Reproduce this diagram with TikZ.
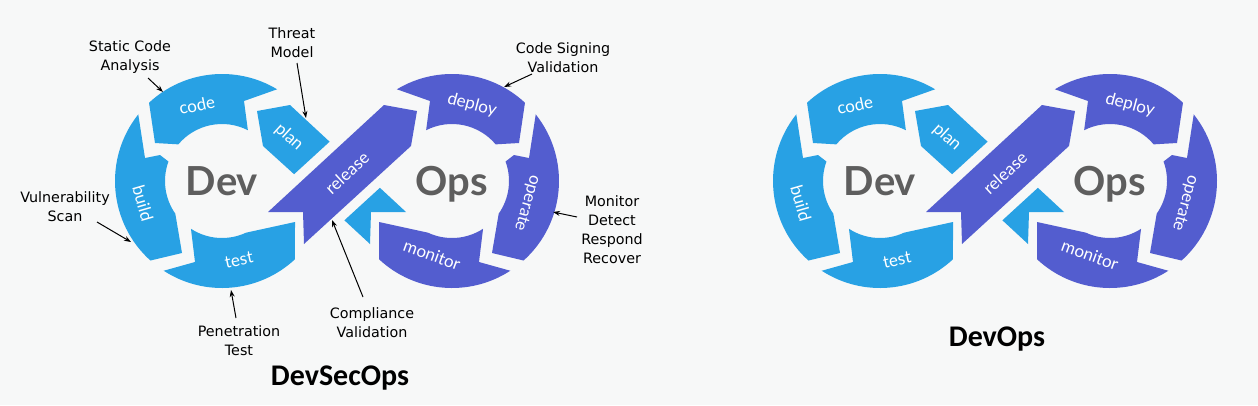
\documentclass[tikz,border=0pt]{standalone}
\usepackage{fontspec}
\setmainfont{DejaVu Sans}
\newfontfamily\latofont{Lato}
\newfontfamily\carlitofont{Carlito}
\newfontfamily\notefont{DejaVu Sans}
\usetikzlibrary{arrows.meta}
\definecolor{devblue}{RGB}{40,161,228}
\definecolor{opspurple}{RGB}{83,93,207}
\definecolor{biggray}{RGB}{94,94,94}
\definecolor{bgcol}{RGB}{247,248,248}

\newcommand\devringparts[1]{%
  \fill[#1] (-59:107) arc[start angle=-59,end angle=-133,radius=107] -- (-67,-38) -- (-140:57) arc[start angle=-140,end angle=-63,radius=57] -- (22,-80) -- cycle;
  \fill[#1] (-141.5:107) arc[start angle=-141.5,end angle=-228,radius=107] -- (-40,72) -- (-215:57) arc[start angle=-215,end angle=-160,radius=57] -- (-62,-26) -- (-77,-23) -- cycle;
  \fill[#1] (123:107) arc[start angle=123,end angle=47,radius=107] -- (73,41) -- (65:57) arc[start angle=65,end angle=123,radius=57] -- (-27,81) -- cycle;
}
\newcommand\infinitymark{%
  \begin{scope}[shift={(-115,0)}]\devringparts{devblue}\end{scope}
  \begin{scope}[xscale=-1]\begin{scope}[shift={(-115,0)}]\devringparts{opspurple}\end{scope}\end{scope}
  \fill[devblue] (-47,-76) -- (-80,-70) -- (-74,-35) -- (-42.9,-6.8) -- (-7.4,-39.3) -- cycle;
  \fill[devblue] (7.4,39.3) -- (42.9,6.8) -- (69,31) -- (34,31) -- (33,63) -- cycle;
  \fill[opspurple] (-69,31) -- (-34,31) -- (-33,63) -- (74,-35) -- (80,-70) -- (47,-76) -- cycle;
}
\newcommand\ringlabels[1]{%
  \node[seglabel, rotate=12] (code#1) at (-140,-76) {code};
  \node[seglabel, rotate=-42] (plan#1) at (-48,-44) {plan};
  \node[seglabel, rotate=-74] (build#1) at (-194,22) {build};
  \node[seglabel, rotate=12] (test#1) at (-98,79) {test};
  \node[seglabel, rotate=42.5] (release#1) at (10,-8) {release};
  \node[seglabel, rotate=-15] (deploy#1) at (135,-76) {deploy};
  \node[seglabel, rotate=-106] (operate#1) at (190,22) {operate};
  \node[seglabel, rotate=-20] (monitor#1) at (95,74) {monitor};
  \node[bigword, anchor=base] (dev#1) at (-115,14) {Dev};
  \node[bigword, anchor=base] (ops#1) at (115,14) {Ops};
}

\begin{document}
\begin{tikzpicture}[x=1pt,y=-1pt,
  seglabel/.style={text=white, font=\latofont\fontsize{17}{17}\selectfont, inner sep=0pt},
  bigword/.style={text=biggray, font=\latofont\bfseries\fontsize{40}{40}\selectfont, inner sep=0pt},
  note/.style={font=\notefont\fontsize{14.3}{19}\selectfont, align=center, inner sep=0pt, text=black},
  pointer/.style={-{Stealth[length=7pt,width=5pt]}, line width=1pt},
  titletext/.style={font=\carlitofont\bfseries\fontsize{30}{30}\selectfont, inner sep=0pt, anchor=base}]

\fill[bgcol] (0,0) rectangle (1258,405);
\useasboundingbox (0,0) rectangle (1258,405);

% left diagram (DevSecOps)
\begin{scope}[shift={(337,181)}]
  \infinitymark
  \ringlabels{L}
\end{scope}
% right diagram (DevOps)
\begin{scope}[shift={(995,181)}]
  \infinitymark
  \ringlabels{R}
\end{scope}

% titles
\node[titletext] (t1) at (340,385) {DevSecOps};
\node[titletext] (t2) at (997,346) {DevOps};

% annotations
\node[note] (sca) at (130,57.5) {Static Code\\Analysis};
\node[note] (tm) at (292,42.5) {Threat\\Model};
\node[note] (csv) at (563,57.5) {Code Signing\\Validation};
\node[note] (vs) at (65,207) {Vulnerability\\Scan};
\node[note] (pt) at (239,340.5) {Penetration\\Test};
\node[note] (cv) at (372,322.5) {Compliance\\Validation};
\node[note] (mdrr) at (612,229.5) {Monitor\\Detect\\Respond\\Recover};

\coordinate (scaA) at (148,78);  \coordinate (scaB) at (163,92);
\coordinate (tmA) at (297,63);   \coordinate (tmB) at (306,118);
\coordinate (csvA) at (532,74);  \coordinate (csvB) at (504,87);
\coordinate (vsA) at (97,222);   \coordinate (vsB) at (131,242);
\coordinate (ptA) at (236,318);  \coordinate (ptB) at (231,290);
\coordinate (cvA) at (363,297);  \coordinate (cvB) at (332,220);
\coordinate (mdA) at (577,217);  \coordinate (mdB) at (553,212);

\draw[pointer] (scaA) -- (scaB);
\draw[pointer] (tmA) -- (tmB);
\draw[pointer] (csvA) -- (csvB);
\draw[pointer] (vsA) -- (vsB);
\draw[pointer] (ptA) -- (ptB);
\draw[pointer] (cvA) -- (cvB);
\draw[pointer] (mdA) -- (mdB);
\end{tikzpicture}
\end{document}
